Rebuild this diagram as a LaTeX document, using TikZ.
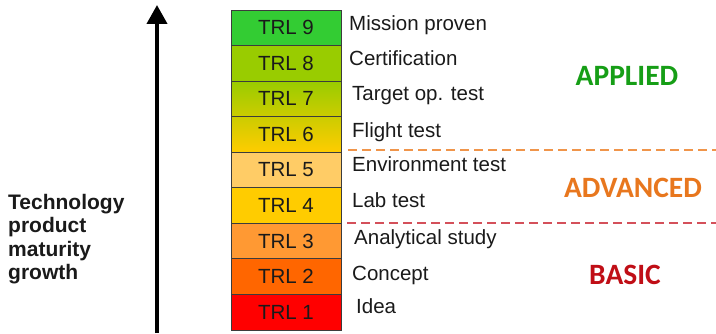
\documentclass[tikz,border=0pt]{standalone}
\usepackage{fontspec}
\setmainfont{Liberation Sans}
\newfontfamily\phasefont{Carlito}
\usetikzlibrary{positioning,arrows.meta}
\definecolor{trlnine}{HTML}{33CC33}
\definecolor{trleight}{HTML}{99CC00}
\definecolor{trlmid}{HTML}{CCCC00}
\definecolor{trlfive}{HTML}{FFCC66}
\definecolor{trlfour}{HTML}{FFCC00}
\definecolor{trlthree}{HTML}{FF9933}
\definecolor{trltwo}{HTML}{FF6600}
\definecolor{trlone}{HTML}{FF0000}
\definecolor{frame}{HTML}{3C3C3C}
\definecolor{ink}{HTML}{1A1A1A}
\definecolor{applied}{HTML}{169E16}
\definecolor{advanced}{HTML}{E8771E}
\definecolor{basic}{HTML}{C00E16}
\definecolor{applline}{HTML}{F0954A}
\definecolor{basicline}{HTML}{D4505A}
\tikzset{
  trl/.style={draw=frame,line width=0.8pt,minimum width=110pt,minimum height=35.56pt,
    inner sep=0pt,outer sep=0pt,text=ink,font=\fontsize{20.5}{22}\selectfont},
  desc/.style={anchor=base west,inner sep=0pt,text=ink,font=\fontsize{20.5}{22}\selectfont},
  phase/.style={inner sep=0pt,font=\phasefont\bfseries\fontsize{29.5}{32}\selectfont},
  phaseline/.style={dash pattern=on 9pt off 5pt,line width=1.8pt},
}

\begin{document}
\begin{tikzpicture}
\useasboundingbox (0,0) rectangle (716pt,333pt);
% readiness levels, bottom to top
\node[trl,fill=trlone] (trl1) at (286pt,20.8pt) {TRL 1};
\node[trl,fill=trltwo,above=0pt of trl1] (trl2) {TRL 2};
\node[trl,fill=trlthree,above=0pt of trl2] (trl3) {TRL 3};
\node[trl,fill=trlfour,above=0pt of trl3] (trl4) {TRL 4};
\node[trl,fill=trlfive,above=0pt of trl4] (trl5) {TRL 5};
\node[trl,top color=trlmid,bottom color=trlfour,above=0pt of trl5] (trl6) {TRL 6};
\node[trl,top color=trleight,bottom color=trlmid,above=0pt of trl6] (trl7) {TRL 7};
\node[trl,fill=trleight,above=0pt of trl7] (trl8) {TRL 8};
\node[trl,fill=trlnine,above=0pt of trl8] (trl9) {TRL 9};

\node[desc] (d9) at ([shift={(8pt,14.6pt)}]trl9.south east) {Mission proven};
\node[desc] (d8) at ([shift={(8pt,16pt)}]trl8.south east) {Certification};
\node[desc] (d7) at ([shift={(11pt,16.5pt)}]trl7.south east) {Target op. test};
\node[desc] (d6) at ([shift={(11pt,15pt)}]trl6.south east) {Flight test};
\node[desc] (d5) at ([shift={(11pt,16.5pt)}]trl5.south east) {Environment test};
\node[desc] (d4) at ([shift={(11pt,16pt)}]trl4.south east) {Lab test};
\node[desc] (d3) at ([shift={(13pt,14pt)}]trl3.south east) {Analytical study};
\node[desc] (d2) at ([shift={(11pt,14.4pt)}]trl2.south east) {Concept};
\node[desc] (d1) at ([shift={(15pt,16pt)}]trl1.south east) {Idea};

% growth axis
\coordinate (axisbot) at (157pt,0pt);
\coordinate (axistop) at (157pt,328pt);
\draw[line width=4pt,-{Triangle[width=20pt,length=19pt]}] (axisbot) -- (axistop);
\node[anchor=west,align=left,inner sep=0pt,text=ink,font=\bfseries\fontsize{21}{23.5}\selectfont]
  (growth) at (8pt,93.7pt) {Technology\\product\\maturity\\growth};

% phase borders
\coordinate (rightedge) at (716pt,0pt);
\coordinate (applstart) at ([shift={(7pt,2pt)}]trl6.south east);
\coordinate (basicstart) at ([shift={(6pt,0pt)}]trl4.south east);
\draw[phaseline,applline] (applstart) -- (applstart -| rightedge);
\draw[phaseline,basicline] (basicstart) -- (basicstart -| rightedge);

\node[phase,text=applied] (appl) at (627pt,257pt) {APPLIED};
\node[phase,text=advanced] (adv) at (633pt,145pt) {ADVANCED};
\node[phase,text=basic] (bas) at (625pt,58pt) {BASIC};
\end{tikzpicture}
\end{document}
